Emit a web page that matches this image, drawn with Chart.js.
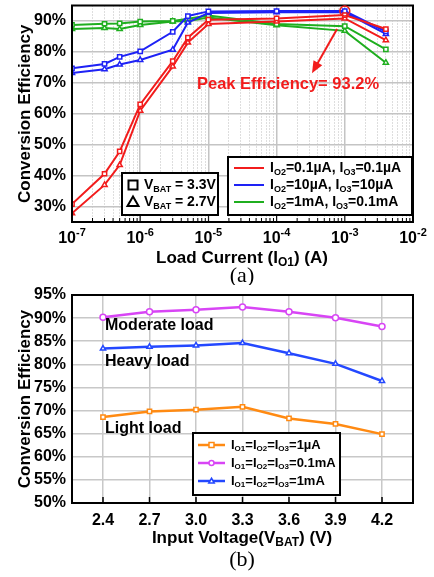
<!DOCTYPE html>
<html>
<head>
<meta charset="utf-8">
<script src="https://cdn.jsdelivr.net/npm/chart.js@4"></script>
<style>
    body { margin: 0; background: #fff; }
    #wrap { position: relative; width: 434px; height: 577px; overflow: hidden; }
    canvas { position: absolute; left: 0; }
    #chartA { top: 0; }
    #chartB { top: 285px; }
</style>
</head>
<body>
<div id="wrap">
    <canvas id="chartA" width="434" height="285"></canvas>
    <canvas id="chartB" width="434" height="292"></canvas>
</div>
<script>
// ---- (a) efficiency vs load current ----
const loadCurrent = [1e-7, 3e-7, 5e-7, 1e-6, 3e-6, 5e-6, 1e-5, 1e-4, 1e-3, 4e-3];
const red33   = [30.8, 40.6, 47.8, 63.0, 77.0, 84.6, 90.4, 90.8, 91.9, 87.4];
const red27   = [27.8, 37.0, 43.4, 61.0, 75.3, 83.0, 89.0, 89.8, 90.8, 83.8];
const blue33  = [74.7, 76.1, 78.4, 80.2, 86.5, 91.6, 93.1, 93.2, 93.2, 86.6];
const blue27  = [73.2, 74.4, 75.9, 77.4, 80.7, 89.5, 92.6, 92.8, 92.8, 85.8];
const green33 = [88.7, 89.1, 89.2, 89.8, 90.0, 90.7, 91.8, 89.0, 88.3, 80.8];
const green27 = [87.4, 87.7, 87.4, 88.7, 89.8, 90.0, 91.1, 88.6, 86.8, 76.5];
const decadesA = [-7, -6, -5, -4, -3, -2];
const yTicksA = [30, 40, 50, 60, 70, 80, 90];
const peakIndex = 8; // blue 3.3V at 1mA -> 93.2%

// ---- (b) efficiency vs input voltage ----
const vbat     = [2.4, 2.7, 3.0, 3.3, 3.6, 3.9, 4.2];
const light    = [68.6, 69.8, 70.2, 70.8, 68.3, 67.1, 64.9];
const moderate = [90.2, 91.4, 91.8, 92.4, 91.4, 90.1, 88.2];
const heavy    = [83.4, 83.8, 84.1, 84.6, 82.4, 80.1, 76.4];

const FONT = '"Liberation Sans", Arial, sans-serif';
const RED = '#f21c1c', BLUE = '#1e22f5', GREEN = '#1fae1f';
const ORANGE = '#ff8a12', MAGENTA = '#d845f5', BLUE_B = '#2448ff';

const pts = (xs, ys) => xs.map((x, i) => ({ x: x, y: ys[i] }));
const isDecade = v => Math.abs(Math.log10(v) - Math.round(Math.log10(v))) < 1e-6;

// Draw text with sub/superscript parts: [[text, 'sub'|'sup'|undefined], ...]
function drawRich(ctx, parts, x, y, size, align, color, subRatio) {
    const big = `bold ${size}px ${FONT}`;
    const small = `bold ${Math.round(size * (subRatio || 0.7))}px ${FONT}`;
    let w = 0;
    parts.forEach(p => { ctx.font = p[1] ? small : big; w += ctx.measureText(p[0]).width; });
    let cx = align === 'center' ? x - w / 2 : (align === 'right' ? x - w : x);
    ctx.save();
    ctx.fillStyle = color || '#000';
    ctx.textAlign = 'left';
    ctx.textBaseline = 'middle';
    parts.forEach(p => {
        ctx.font = p[1] ? small : big;
        let dy = 0;
        if (p[1] === 'sub') dy = size * 0.3;
        if (p[1] === 'sup') dy = -size * 0.35;
        ctx.fillText(p[0], cx, y + dy);
        cx += ctx.measureText(p[0]).width;
    });
    ctx.restore();
}

function marker(ctx, style, x, y, r, stroke, fill, lw) {
    ctx.save();
    ctx.strokeStyle = stroke;
    ctx.fillStyle = fill;
    ctx.lineWidth = lw;
    ctx.beginPath();
    if (style === 'rect') {
        ctx.rect(x - r, y - r, 2 * r, 2 * r);
    } else if (style === 'triangle') {
        ctx.moveTo(x, y - r * 1.1);
        ctx.lineTo(x + r * 1.1, y + r * 0.8);
        ctx.lineTo(x - r * 1.1, y + r * 0.8);
        ctx.closePath();
    } else {
        ctx.arc(x, y, r, 0, Math.PI * 2);
    }
    ctx.fill();
    ctx.stroke();
    ctx.restore();
}

function vTitle(ctx, text, x, y) {
    ctx.save();
    ctx.translate(x, y);
    ctx.rotate(-Math.PI / 2);
    ctx.font = `bold 17px ${FONT}`;
    ctx.fillStyle = '#000';
    ctx.textAlign = 'center';
    ctx.textBaseline = 'middle';
    ctx.fillText(text, 0, 0);
    ctx.restore();
}

function box(ctx, x, y, w, h) {
    ctx.save();
    ctx.fillStyle = '#fff';
    ctx.fillRect(x, y, w, h);
    ctx.strokeStyle = '#000';
    ctx.lineWidth = 2;
    ctx.strokeRect(x, y, w, h);
    ctx.restore();
}

function dataset(label, data, color, style, width) {
    return {
        label: label,
        data: data,
        borderColor: color,
        backgroundColor: '#fff',
        borderWidth: width,
        pointStyle: style,
        pointRadius: 3,
        pointBorderWidth: 1.5,
        pointBorderColor: color,
        pointBackgroundColor: '#fff',
        tension: 0
    };
}

// Plugin for chart (a): frame, ticks, titles, legends, annotation
const decorA = {
    id: 'decorA',
    afterDraw(chart) {
        const ctx = chart.ctx;
        const a = chart.chartArea;
        const xs = chart.scales.x, ys = chart.scales.y;

        // inward ticks on bottom axis
        ctx.save();
        ctx.strokeStyle = '#000';
        ctx.lineWidth = 1;
        xs.ticks.forEach(t => {
            const px = xs.getPixelForValue(t.value);
            const len = isDecade(t.value) ? 6 : 4;
            ctx.beginPath();
            ctx.moveTo(px, a.bottom);
            ctx.lineTo(px, a.bottom - len);
            ctx.stroke();
        });
        ctx.restore();

        // frame
        ctx.save();
        ctx.strokeStyle = '#000';
        ctx.lineWidth = 2;
        ctx.strokeRect(a.left, a.top, a.right - a.left, a.bottom - a.top);
        ctx.restore();

        // x tick labels 10^n
        decadesA.forEach(d => {
            const px = xs.getPixelForValue(Math.pow(10, d));
            drawRich(ctx, [['10'], [String(d), 'sup']], px, 239, 16, 'center');
        });

        // axis titles
        drawRich(ctx, [['Load Current (I'], ['O1', 'sub'], [') (A)']], 242, 258, 17, 'center');
        vTitle(ctx, 'Conversion Efficiency', 25, (a.top + a.bottom) / 2);
        ctx.save();
        ctx.font = `22px "Liberation Serif", "Times New Roman", serif`;
        ctx.fillStyle = '#000';
        ctx.textAlign = 'center';
        ctx.textBaseline = 'middle';
        ctx.fillText('(a)', 242, 276);
        ctx.restore();

        // peak marker and annotation
        const peakX = xs.getPixelForValue(loadCurrent[peakIndex]);
        const peakY = ys.getPixelForValue(blue33[peakIndex]);
        ctx.save();
        ctx.strokeStyle = RED;
        ctx.lineWidth = 1.5;
        ctx.beginPath();
        ctx.arc(peakX, peakY, 5, 0, Math.PI * 2);
        ctx.stroke();
        // arrow
        const x0 = xs.getPixelForValue(7.7e-4), y0 = ys.getPixelForValue(87.4);
        const x1 = xs.getPixelForValue(3.3e-4), y1 = ys.getPixelForValue(73.1);
        const ang = Math.atan2(y1 - y0, x1 - x0);
        ctx.lineWidth = 2;
        ctx.beginPath();
        ctx.moveTo(x0, y0);
        ctx.lineTo(x1 - 8 * Math.cos(ang), y1 - 8 * Math.sin(ang));
        ctx.stroke();
        ctx.fillStyle = RED;
        ctx.beginPath();
        ctx.moveTo(x1, y1);
        ctx.lineTo(x1 - 12 * Math.cos(ang) + 5 * Math.sin(ang), y1 - 12 * Math.sin(ang) - 5 * Math.cos(ang));
        ctx.lineTo(x1 - 12 * Math.cos(ang) - 5 * Math.sin(ang), y1 - 12 * Math.sin(ang) + 5 * Math.cos(ang));
        ctx.closePath();
        ctx.fill();
        ctx.restore();
        drawRich(ctx, [['Peak Efficiency= 93.2%']], 197, 84, 16.5, 'left', RED);

        // left legend: markers for V_BAT
        box(ctx, 122, 173, 96, 42);
        marker(ctx, 'rect', 133, 185, 4.5, '#000', '#fff', 2);
        drawRich(ctx, [['V'], ['BAT', 'sub'], [' = 3.3V']], 144, 185, 14, 'left', '#000', 0.65);
        marker(ctx, 'triangle', 133, 202, 5, '#000', '#fff', 2);
        drawRich(ctx, [['V'], ['BAT', 'sub'], [' = 2.7V']], 144, 202, 14, 'left', '#000', 0.65);

        // right legend: line colours
        box(ctx, 228, 157, 184, 58);
        const rows = [
            [RED, [['I'], ['O2', 'sub'], ['=0.1\u00b5A, I'], ['O3', 'sub'], ['=0.1\u00b5A']]],
            [BLUE, [['I'], ['O2', 'sub'], ['=10\u00b5A, I'], ['O3', 'sub'], ['=10\u00b5A']]],
            [GREEN, [['I'], ['O2', 'sub'], ['=1mA, I'], ['O3', 'sub'], ['=0.1mA']]]
        ];
        rows.forEach((r, i) => {
            const y = 168 + i * 17;
            ctx.save();
            ctx.strokeStyle = r[0];
            ctx.lineWidth = 2;
            ctx.beginPath();
            ctx.moveTo(234, y);
            ctx.lineTo(264, y);
            ctx.stroke();
            ctx.restore();
            drawRich(ctx, r[1], 270, y, 14, 'left', '#000', 0.65);
        });
    }
};

const chartA = new Chart(document.getElementById('chartA'), {
    type: 'line',
    data: {
        datasets: [
            dataset('red 3.3V', pts(loadCurrent, red33), RED, 'rect', 2),
            dataset('red 2.7V', pts(loadCurrent, red27), RED, 'triangle', 2),
            dataset('blue 3.3V', pts(loadCurrent, blue33), BLUE, 'rect', 2),
            dataset('blue 2.7V', pts(loadCurrent, blue27), BLUE, 'triangle', 2),
            dataset('green 3.3V', pts(loadCurrent, green33), GREEN, 'rect', 2),
            dataset('green 2.7V', pts(loadCurrent, green27), GREEN, 'triangle', 2)
        ]
    },
    options: {
        responsive: false,
        animation: false,
        layout: { padding: { top: 1, right: 21, left: 0, bottom: 0 } },
        plugins: { legend: { display: false }, tooltip: { enabled: false } },
        scales: {
            x: {
                type: 'logarithmic',
                min: 1e-7,
                max: 1e-2,
                afterBuildTicks: s => {
                    const t = [];
                    decadesA.slice(0, -1).forEach(d => {
                        for (let m = 1; m < 10; m++) t.push({ value: m * Math.pow(10, d) });
                    });
                    t.push({ value: 1e-2 });
                    s.ticks = t;
                },
                afterFit: s => { s.height = 63; s.paddingLeft = 0; s.paddingRight = 0; },
                ticks: { display: false },
                grid: {
                    drawTicks: false,
                    color: c => c.tick && isDecade(c.tick.value) ? '#c4c4c4' : '#bdbdbd',
                    lineWidth: c => c.tick && isDecade(c.tick.value) ? 1.5 : 1
                },
                border: {
                    display: false,
                    dash: c => c.tick && !isDecade(c.tick.value) ? [1, 2] : []
                }
            },
            y: {
                min: 25,
                max: 95,
                afterBuildTicks: s => { s.ticks = yTicksA.map(v => ({ value: v })); },
                afterFit: s => { s.width = 72; s.paddingTop = 0; s.paddingBottom = 0; },
                ticks: {
                    padding: 6,
                    color: '#000',
                    font: { family: FONT, size: 16, weight: 'bold' },
                    callback: v => v + '%'
                },
                grid: { drawTicks: false, color: '#c4c4c4', lineWidth: 1.5 },
                border: { display: false }
            }
        }
    },
    plugins: [decorA]
});

// Plugin for chart (b)
const decorB = {
    id: 'decorB',
    afterDraw(chart) {
        const ctx = chart.ctx;
        const a = chart.chartArea;
        const xs = chart.scales.x, ys = chart.scales.y;

        ctx.save();
        ctx.strokeStyle = '#000';
        ctx.lineWidth = 1.5;
        vbat.forEach(v => {
            const px = xs.getPixelForValue(v);
            ctx.beginPath();
            ctx.moveTo(px, a.bottom);
            ctx.lineTo(px, a.bottom - 6);
            ctx.stroke();
        });
        ctx.lineWidth = 2;
        ctx.strokeRect(a.left, a.top, a.right - a.left, a.bottom - a.top);
        ctx.restore();

        // load labels
        drawRich(ctx, [['Moderate load']], 105, ys.getPixelForValue(88.3), 16, 'left');
        drawRich(ctx, [['Heavy load']], 105, ys.getPixelForValue(80.5), 16, 'left');
        drawRich(ctx, [['Light load']], 105, ys.getPixelForValue(66.0), 16, 'left');

        // legend
        box(ctx, 193, 148, 147, 62);
        const rows = [
            [ORANGE, 'rect', [['I'], ['O1', 'sub'], ['=I'], ['O2', 'sub'], ['=I'], ['O3', 'sub'], ['=1\u00b5A']]],
            [MAGENTA, 'circle', [['I'], ['O1', 'sub'], ['=I'], ['O2', 'sub'], ['=I'], ['O3', 'sub'], ['=0.1mA']]],
            [BLUE_B, 'triangle', [['I'], ['O1', 'sub'], ['=I'], ['O2', 'sub'], ['=I'], ['O3', 'sub'], ['=1mA']]]
        ];
        rows.forEach((r, i) => {
            const y = 160 + i * 18;
            ctx.save();
            ctx.strokeStyle = r[0];
            ctx.lineWidth = 2.5;
            ctx.beginPath();
            ctx.moveTo(198, y);
            ctx.lineTo(225, y);
            ctx.stroke();
            ctx.restore();
            marker(ctx, r[1], 211.5, y, 2.5, r[0], '#fff', 1.5);
            drawRich(ctx, r[2], 231, y, 13, 'left', '#000', 0.65);
        });

        // titles
        drawRich(ctx, [['Input Voltage(V'], ['BAT', 'sub'], [') (V)']], 242, 253, 17, 'center');
        vTitle(ctx, 'Conversion Efficiency', 25, (a.top + a.bottom) / 2);
        ctx.save();
        ctx.font = `22px "Liberation Serif", "Times New Roman", serif`;
        ctx.fillStyle = '#000';
        ctx.textAlign = 'center';
        ctx.textBaseline = 'middle';
        ctx.fillText('(b)', 242, 275);
        ctx.restore();
    }
};

const chartB = new Chart(document.getElementById('chartB'), {
    type: 'line',
    data: {
        datasets: [
            dataset('1uA', pts(vbat, light), ORANGE, 'rect', 2.5),
            dataset('0.1mA', pts(vbat, moderate), MAGENTA, 'circle', 2.5),
            dataset('1mA', pts(vbat, heavy), BLUE_B, 'triangle', 2.5)
        ]
    },
    options: {
        responsive: false,
        animation: false,
        layout: { padding: { top: 10, right: 21, left: 0, bottom: 0 } },
        plugins: { legend: { display: false }, tooltip: { enabled: false } },
        scales: {
            x: {
                type: 'linear',
                min: 2.2,
                max: 4.4,
                afterBuildTicks: s => { s.ticks = vbat.map(v => ({ value: v })); },
                afterFit: s => { s.height = 74; s.paddingLeft = 0; s.paddingRight = 0; },
                ticks: {
                    padding: 8,
                    color: '#000',
                    font: { family: FONT, size: 16, weight: 'bold' },
                    callback: v => v.toFixed(1)
                },
                grid: { drawTicks: false, color: '#c8c8c8', lineWidth: 1.5 },
                border: { display: false }
            },
            y: {
                min: 50,
                max: 95,
                afterBuildTicks: s => {
                    const t = [];
                    for (let v = 50; v <= 95; v += 5) t.push({ value: v });
                    s.ticks = t;
                },
                afterFit: s => { s.width = 72; s.paddingTop = 0; s.paddingBottom = 0; },
                ticks: {
                    padding: 6,
                    color: '#000',
                    font: { family: FONT, size: 16, weight: 'bold' },
                    callback: v => v + '%'
                },
                grid: { drawTicks: false, color: '#c8c8c8', lineWidth: 1.5 },
                border: { display: false }
            }
        }
    },
    plugins: [decorB]
});
</script>
</body>
</html>
